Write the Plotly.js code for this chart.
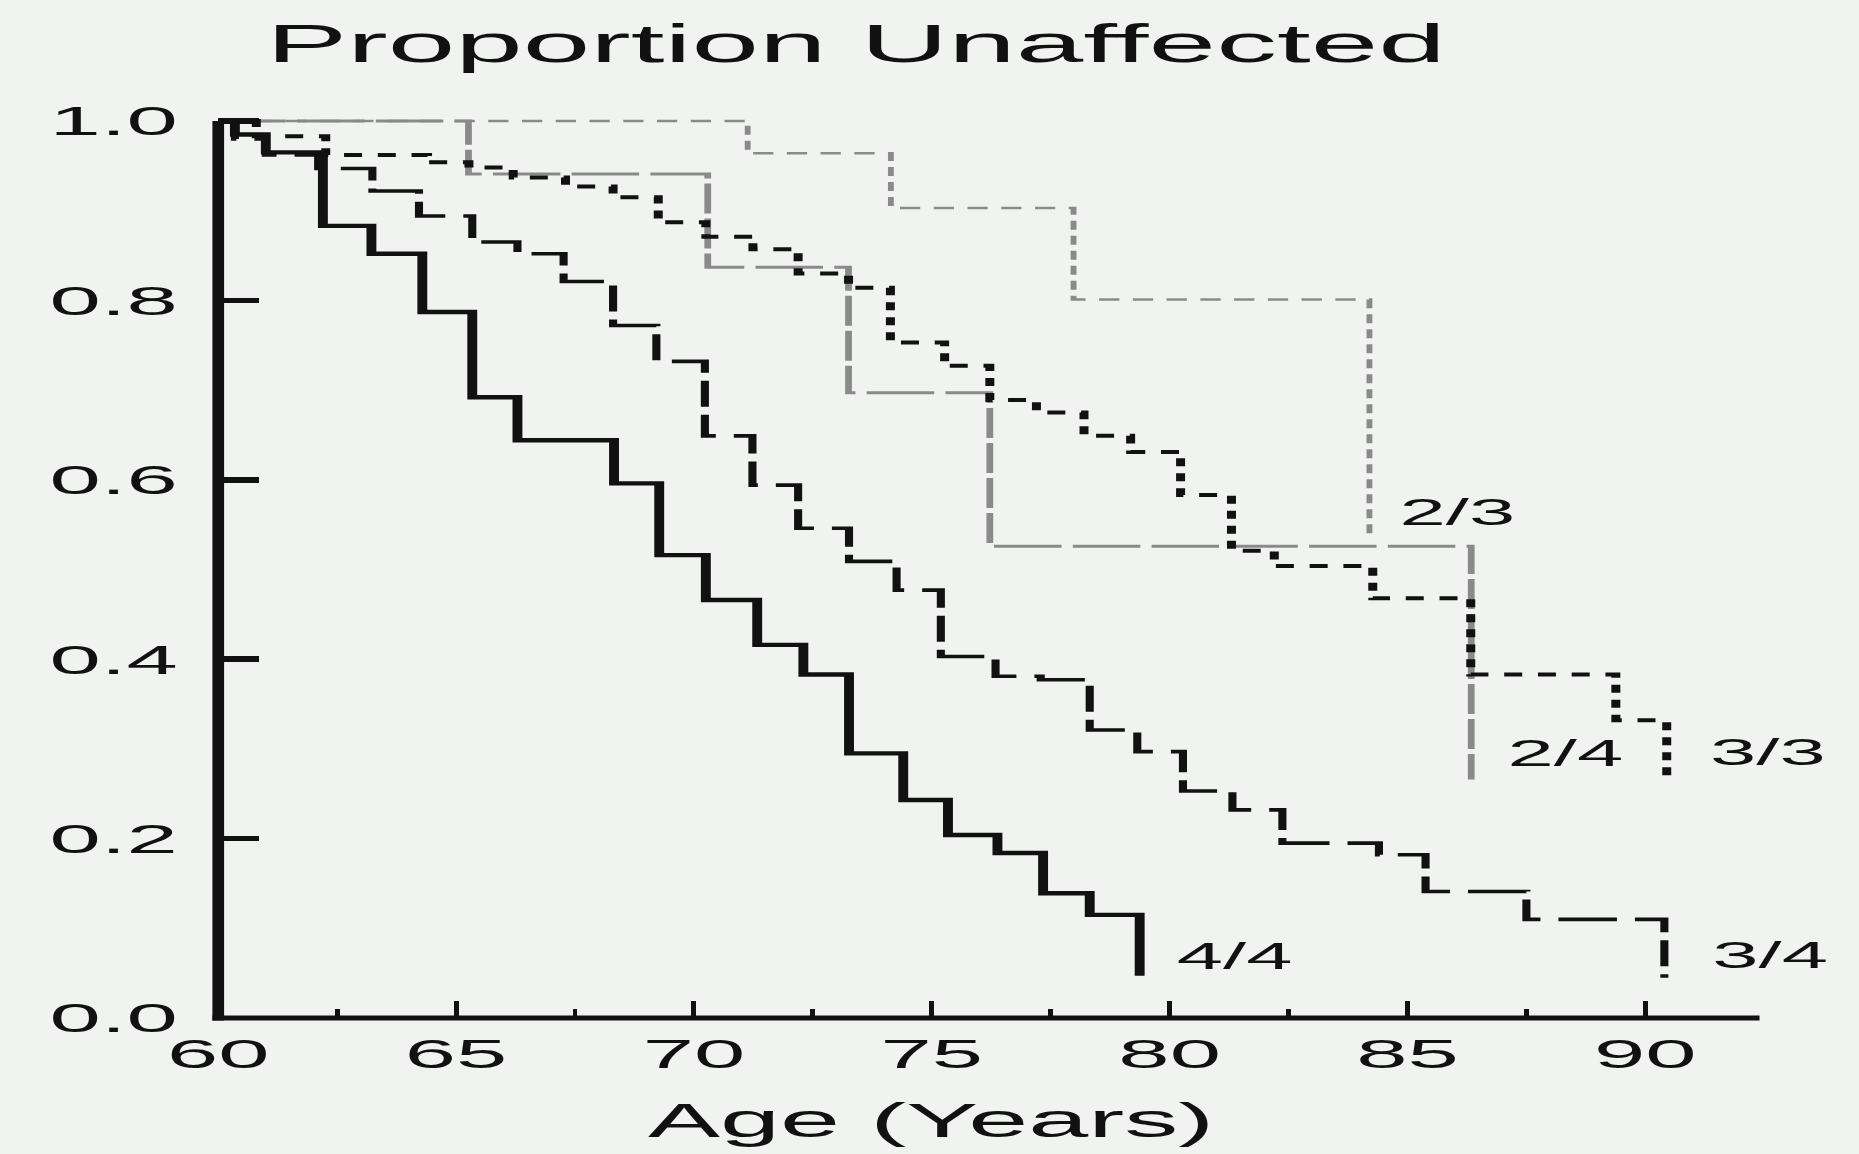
<!DOCTYPE html>
<html>
<head>
<meta charset="utf-8">
<script src="https://cdn.plot.ly/plotly-3.0.1.min.js"></script>
<style>
  html, body { margin: 0; padding: 0; background: #f1f3f1; overflow: hidden; }
  #wrap { width: 1859px; height: 1154px; overflow: hidden; }
  #plot { transform-origin: 0 0; }
</style>
</head>
<body>
<div id="wrap"><div id="plot"></div></div>
<script>
// The reference is a scan stretched horizontally; the chart is drawn at
// 1/STRETCH of the width and widened with a CSS transform.
const STRETCH = 2.25;
const FULL_W = 1859, FULL_H = 1154;
const W = FULL_W / STRETCH;

// Step data: age at each step, proportion unaffected after the step
const age44  = [60, 60.35, 61.0, 62.2, 63.22, 64.29, 65.34, 66.29, 68.32, 69.27, 70.25, 71.33, 72.30, 73.26, 74.40, 75.34, 76.38, 77.34, 78.32, 79.37];
const prop44 = [1.0, 0.985, 0.965, 0.883, 0.852, 0.787, 0.692, 0.644, 0.596, 0.516, 0.466, 0.416, 0.383, 0.295, 0.243, 0.204, 0.184, 0.139, 0.115, 0.047];

const age34  = [60, 60.35, 61.0, 62.1, 63.24, 64.22, 65.34, 66.29, 67.26, 68.30, 69.21, 70.23, 71.23, 72.19, 73.26, 74.26, 75.19, 76.34, 77.29, 78.32, 79.32, 80.28, 81.32, 82.37, 84.40, 85.38, 87.50, 90.40];
const prop34 = [1.0, 0.98, 0.962, 0.947, 0.922, 0.894, 0.865, 0.852, 0.821, 0.772, 0.732, 0.649, 0.594, 0.546, 0.509, 0.477, 0.403, 0.381, 0.377, 0.321, 0.297, 0.253, 0.232, 0.195, 0.182, 0.141, 0.110, 0.045];

const age33  = [60, 60.8, 62.26, 64.4, 65.27, 66.2, 67.3, 68.3, 69.25, 70.25, 71.24, 72.19, 73.25, 74.13, 75.27, 76.22, 77.2, 78.2, 79.18, 80.23, 81.30, 82.2, 84.27, 86.33, 89.38, 90.45];
const prop33 = [1.0, 0.983, 0.962, 0.954, 0.948, 0.937, 0.927, 0.915, 0.887, 0.871, 0.857, 0.830, 0.814, 0.753, 0.727, 0.689, 0.675, 0.649, 0.631, 0.583, 0.521, 0.504, 0.468, 0.383, 0.332, 0.265];

const age24  = [60, 65.26, 70.29, 73.25, 76.22, 86.34];
const prop24 = [1.0, 0.941, 0.837, 0.697, 0.526, 0.266];

const age23  = [60, 71.13, 74.14, 77.98, 84.20];
const prop23 = [1.0, 0.964, 0.903, 0.801, 0.540];

// Curve labels and where they sit (age of left edge, proportion at middle)
const labelText = ['2/3', '2/4', '3/3', '3/4', '4/4'];
const labelAge  = [84.75, 87.0, 91.25, 91.3, 80.05];
const labelProp = [0.5635, 0.2953, 0.2957, 0.0698, 0.0688];

const yTickVals = [0, 0.2, 0.4, 0.6, 0.8, 1.0];
const xTickVals = [60, 65, 70, 75, 80, 85, 90];
const xMinorVals = [62.5, 67.5, 72.5, 77.5, 82.5, 87.5];

const FONT = 'Liberation Sans, Arial, Helvetica, sans-serif';
const INK = '#111111';
const GREY = '#8a8a8a';
const BG = '#f1f3f1';

// geometry (full-size pixels)
const X0PX = 218.5, PX_PER_YEAR = 47.574, XMAX = 92.4;
const Y0PX = 1018.5, PX_PER_UNIT = 898, YMAX = 1.01;
const plotW = (XMAX - 60) * PX_PER_YEAR / STRETCH;   // unscaled width
const plotH = YMAX * PX_PER_UNIT;
const mL = X0PX / STRETCH;
const mR = W - mL - plotW;
const mT = Y0PX - plotH;
const mB = FULL_H - Y0PX;

const Y_AXIS_W = 5.2;   // unscaled -> ~11.7px after widening
const X_AXIS_W = 5;

function step(x, y, color, width, dash) {
  return { x: x, y: y, type: 'scatter', mode: 'lines',
           line: { shape: 'hv', color: color, width: width, dash: dash },
           hoverinfo: 'skip' };
}

const traces = [
  step(age23, prop23, GREY, 2.6, '9px,6px'),
  step(age24, prop24, GREY, 3.0, '30px,5px'),
  step(age33, prop33, INK, 4.0, '8px,7px'),
  step(age34, prop34, INK, 3.6, '26px,8px'),
  step(age44, prop44, INK, 4.4, 'solid')
];

const annotations = labelText.map((t, i) => ({
  text: t, x: labelAge[i], y: labelProp[i], xref: 'x', yref: 'y',
  xanchor: 'left', yanchor: 'middle', showarrow: false,
  font: { family: FONT, size: 37, color: INK }
}));
annotations.push({
  text: 'Age (Years)', x: 75, xref: 'x', y: -(1121 - Y0PX) / plotH, yref: 'paper',
  xanchor: 'center', yanchor: 'middle', showarrow: false,
  font: { family: FONT, size: 48, color: INK }
});

// axis lines centred on age 60 and proportion 0
const shapes = [
  { type: 'line', xref: 'paper', yref: 'paper', layer: 'above',
    x0: -(Y_AXIS_W / 2) / plotW, x1: 1, y0: 0, y1: 0,
    line: { color: INK, width: X_AXIS_W } },
  { type: 'line', xref: 'paper', yref: 'paper', layer: 'above',
    x0: 0, x1: 0, y0: -(X_AXIS_W / 2) / plotH, y1: 1.0 / YMAX,
    line: { color: INK, width: Y_AXIS_W } }
];

const layout = {
  width: W, height: FULL_H, autosize: false,
  margin: { l: mL, r: mR, t: mT, b: mB, pad: 0 },
  paper_bgcolor: BG, plot_bgcolor: BG,
  showlegend: false,
  font: { family: FONT, color: INK, size: 41 },
  title: {
    text: 'Proportion Unaffected',
    font: { family: FONT, size: 54, color: INK },
    xref: 'container', x: 856 / FULL_W, xanchor: 'center',
    yref: 'container', y: 1 - 43.5 / FULL_H, yanchor: 'middle'
  },
  xaxis: {
    range: [60, XMAX], showgrid: false, zeroline: false, showline: false,
    tickmode: 'array', tickvals: xTickVals, ticktext: xTickVals.map(String),
    ticks: 'inside', ticklen: 17.5, tickwidth: 2.2, tickcolor: INK,
    minor: { tickmode: 'array', tickvals: xMinorVals, ticks: 'inside', ticklen: 9.5, tickwidth: 2.2, tickcolor: INK, showgrid: false },
    tickfont: { family: FONT, size: 41, color: INK },
    ticklabelstandoff: 8
  },
  yaxis: {
    range: [0, YMAX], showgrid: false, zeroline: false, showline: false,
    tickmode: 'array', tickvals: yTickVals, ticktext: yTickVals.map(v => v.toFixed(1)),
    ticks: 'inside', ticklen: 18.2, tickwidth: 5.5, tickcolor: INK,
    tickfont: { family: FONT, size: 41, color: INK },
    ticklabelstandoff: 17
  },
  shapes: shapes,
  annotations: annotations
};

const el = document.getElementById('plot');
el.style.width = W + 'px';
el.style.height = FULL_H + 'px';
el.style.transform = 'scaleX(' + STRETCH + ')';
Plotly.newPlot(el, traces, layout, { displayModeBar: false, staticPlot: true });
</script>
</body>
</html>
